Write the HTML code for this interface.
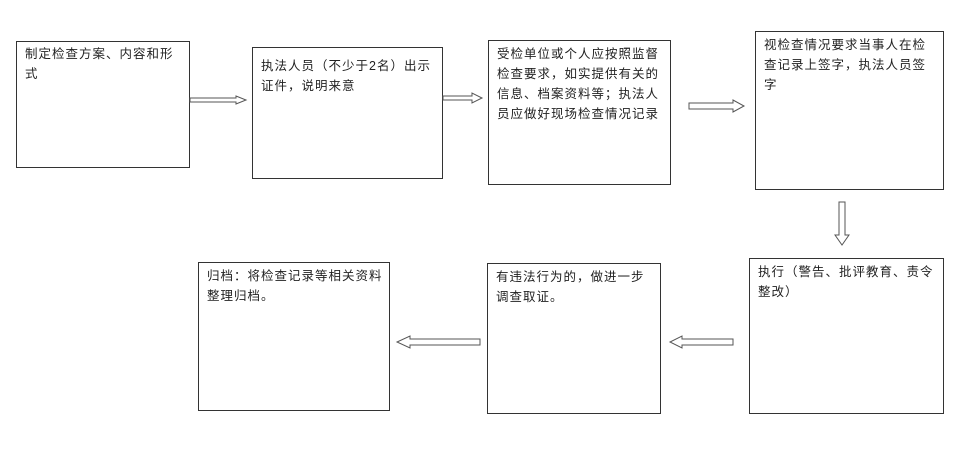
<!DOCTYPE html>
<html><head><meta charset="utf-8"><style>
body{margin:0;background:#fff;width:970px;height:455px;overflow:hidden;position:relative;font-family:"Liberation Sans","Noto Sans CJK SC",sans-serif;}
.b{position:absolute;border:1px solid #333;box-sizing:border-box;font-size:12.5px;line-height:20px;color:#222;padding:2px 7px 2px 8px;letter-spacing:1px}
svg{position:absolute;left:0;top:0}
</style></head><body>
<div class="b" style="left:16px;top:41px;width:174px;height:127px">制定检查方案、内容和形式</div>
<div class="b" style="left:252px;top:47px;width:191px;height:132px;padding-top:8px">执法人员（不少于2名）出示证件，说明来意</div>
<div class="b" style="left:488px;top:40px;width:183px;height:145px;padding-top:3px">受检单位或个人应按照监督检查要求，如实提供有关的信息、档案资料等；执法人员应做好现场检查情况记录</div>
<div class="b" style="left:755px;top:31px;width:189px;height:159px;padding-top:3px">视检查情况要求当事人在检查记录上签字，执法人员签字</div>
<div class="b" style="left:749px;top:258px;width:195px;height:156px;padding-top:3px">执行（警告、批评教育、责令整改）</div>
<div class="b" style="left:487px;top:263px;width:174px;height:151px;padding-top:3px">有违法行为的，做进一步调查取证。</div>
<div class="b" style="left:198px;top:262px;width:192px;height:149px;padding:3px 0 2px 8px">归档：将检查记录等相关资料整理归档。</div>
<svg width="970" height="455" fill="#fff" stroke="#555" stroke-width="1">
<polygon points="190,98 236,98 236,96 246,100 236,104 236,102 190,102"/>
<polygon points="443,96 472,96 472,93 482,98 472,103 472,100 443,100"/>
<polygon points="689,103 733,103 733,100 744,106 733,112 733,109 689,109"/>
<polygon points="839,202 845,202 845,235 849,235 842,245 835,235 839,235"/>
<polygon points="733,339 682,339 682,336 670,342 682,348 682,345 733,345"/>
<polygon points="480,339 410,339 410,336 397,342 410,348 410,345 480,345"/>
</svg>
</body></html>
